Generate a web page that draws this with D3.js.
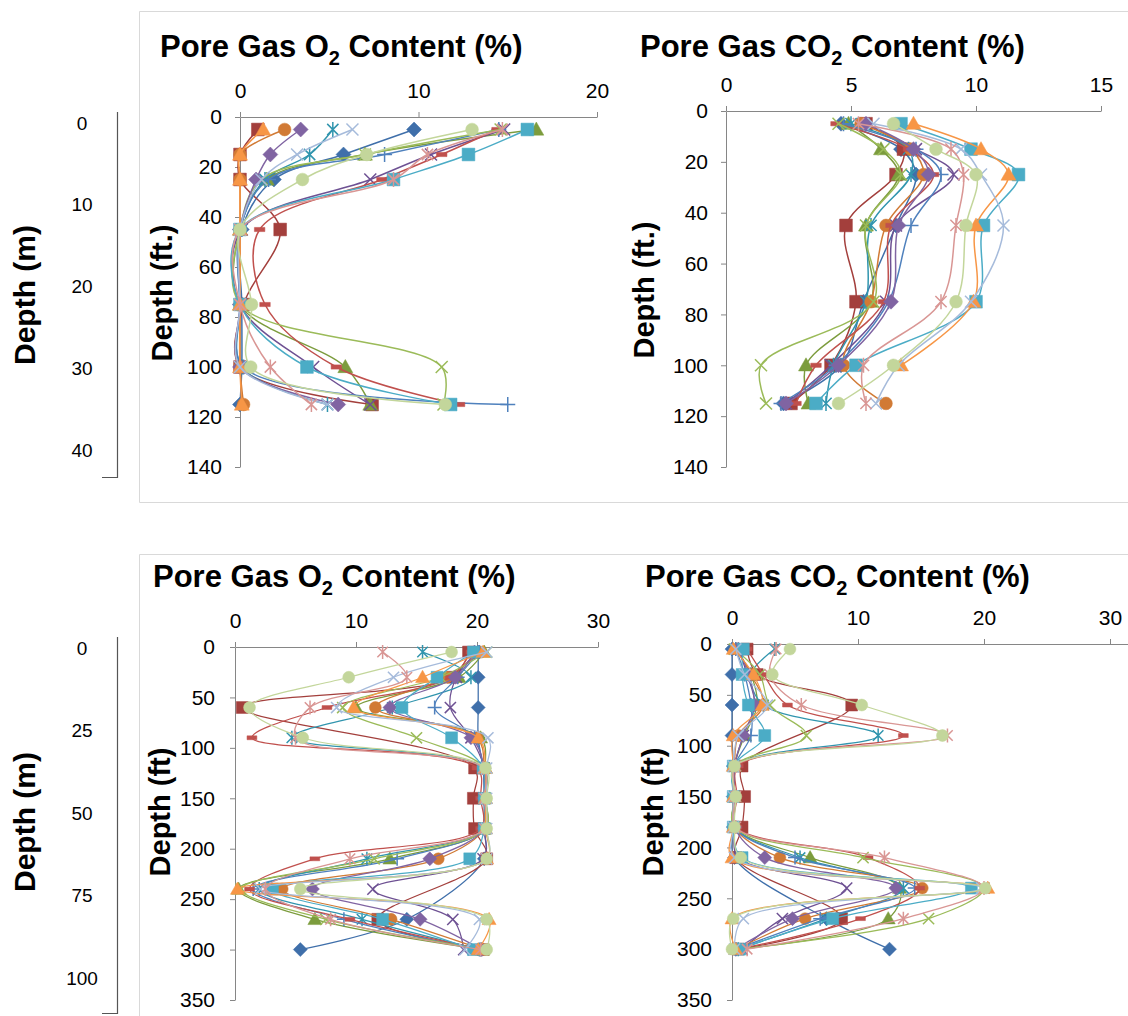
<!DOCTYPE html>
<html>
<head>
<meta charset="utf-8">
<script src="https://cdn.jsdelivr.net/npm/d3@7"></script>
<style>
  body { margin: 0; background: #fff; }
  svg { display: block; font-family: "Liberation Sans", Arial, sans-serif; }
</style>
</head>
<body>
<div id="chart"></div>
<script>
// depths (ft) of the sampling points
const topDepths = [5, 15, 25, 45, 75, 100, 115];
const botDepths = [5, 30, 60, 90, 120, 150, 180, 210, 240, 270, 300];

// tick labels
const topO2Ticks = [0, 10, 20];
const topCO2Ticks = [0, 5, 10, 15];
const botGasTicks = [0, 10, 20, 30];
const topFtTicks = [0, 20, 40, 60, 80, 100, 120, 140];
const botFtTicks = [0, 50, 100, 150, 200, 250, 300, 350];
const topMTicks = [0, 10, 20, 30, 40];
const botMTicks = [0, 25, 50, 75, 100];

// series values, one row per series (top site)
const topO2 = [
  [9.75, 5.8, 1.9, 0.1, 0.1, 0.1, 0],
  [1.0, 0, 0, 2.25, 0.2, 0, 7.4],
  [16.6, 7.0, 1.5, 0, 0, 5.9, 7.3],
  [14.8, 10.7, 7.3, 0.1, 0, 4.1, 7.3],
  [5.2, 3.9, 1.4, 0, 0, 0.1, 4.9],
  [2.5, 0, 0, 0, 0, 0, 0.2],
  [14.5, 8.1, 1.6, 0, 0, 0.2, 15.0],
  [14.4, 11.3, 7.95, 1.1, 1.4, 5.4, 12.3],
  [14.6, 7.0, 1.2, 0, 0, 11.3, 11.4],
  [3.4, 1.7, 0.9, 0, 0, 0, 5.5],
  [16.1, 12.8, 8.6, 0, 0, 3.75, 11.8],
  [1.3, 0, 0, 0, 0, 0, 0.1],
  [6.3, 3.2, 1.2, 0, 0, 0, 4.9],
  [14.7, 10.5, 8.6, 0, 0, 1.7, 4.0],
  [13.0, 7.1, 3.5, 0, 0.65, 0.6, 11.5]
];
const topCO2 = [
  [4.6, 7.0, 7.6, 6.8, 5.5, 4.6, 2.3],
  [5.6, 7.1, 6.8, 4.8, 5.2, 4.2, 2.6],
  [4.9, 6.2, 6.9, 5.6, 5.8, 3.2, 3.3],
  [5.5, 7.6, 9.1, 6.8, 6.4, 4.2, 2.4],
  [5.0, 7.3, 7.4, 5.8, 5.6, 4.3, 4.0],
  [5.4, 7.4, 7.9, 6.4, 5.8, 4.7, 6.4],
  [4.7, 7.6, 8.6, 7.4, 6.5, 4.4, 2.2],
  [4.4, 7.3, 8.3, 6.6, 6.3, 3.6, 2.8],
  [4.5, 6.3, 7.0, 5.6, 5.9, 1.4, 1.6],
  [5.6, 7.5, 8.1, 6.9, 6.6, 4.5, 2.4],
  [7.0, 9.8, 11.7, 10.3, 10.0, 5.2, 3.6],
  [7.5, 10.2, 11.3, 10.0, 9.9, 7.0, null],
  [5.9, 9.4, 10.2, 11.1, 9.8, 6.9, 6.0],
  [5.3, 9.0, 9.5, 9.2, 8.6, 5.5, 5.6],
  [6.7, 8.4, 10.0, 9.6, 9.2, 6.7, 4.5]
];

// series values (bottom site)
const botO2 = [
  [20.1, 20.1, 20.1, 20.1, 20.5, 20.6, 20.6, 20.6, null, 14.2, 5.4],
  [19.3, 18.0, 0.6, null, 19.8, 19.7, 19.8, 20.8, null, 11.8, 20.5],
  [20.6, 18.5, 10.0, 20.3, 20.7, 20.7, 20.7, 12.8, 0.3, 6.6, 20.4],
  [20.0, 18.3, 17.8, 19.5, 20.6, 20.6, 20.6, 20.5, 11.4, 18.0, 18.9],
  [15.5, 19.5, 13.0, 4.7, 20.5, 20.7, 20.6, 10.9, 2.0, 10.5, 20.3],
  [20.3, 17.5, 11.6, 20.0, 20.6, 20.6, 20.6, 16.8, 3.9, 12.9, 20.5],
  [20.2, 18.4, 16.5, 19.8, 20.5, 20.6, 20.6, 13.4, 1.5, 9.0, 20.2],
  [19.5, 17.8, 7.6, 1.4, 20.0, 20.3, 20.3, 6.6, 1.2, 9.5, 20.5],
  [20.8, 17.0, 8.9, 15.0, 20.6, 20.7, 20.7, 11.5, 0.5, 7.5, 20.6],
  [19.8, 18.2, 12.8, 19.5, 20.6, 20.6, 20.6, 16.1, 6.4, 15.3, 20.4],
  [19.7, 16.7, 13.8, 17.9, 20.5, 20.6, 20.6, 19.4, 3.1, 12.2, 19.7],
  [20.5, 15.5, 9.8, 20.1, 20.7, 20.7, 20.7, 20.8, 0.2, 21.0, 20.1],
  [20.8, 13.1, 8.4, 20.9, 20.8, 20.8, 20.8, 20.8, 2.1, 20.2, 19.0],
  [12.2, 14.2, 6.2, 5.0, 20.5, 20.6, 20.6, 9.5, 2.5, 7.9, 20.3],
  [17.9, 9.4, 1.2, 5.6, 20.7, 20.8, 20.8, 20.8, 5.4, 20.8, 20.8]
];
const botCO2 = [
  [0, 0, 0, 0, 0.1, 0.1, 0.1, 0.2, null, 7.5, 12.5],
  [1.2, 2.0, 9.5, null, 0.8, 1.0, 0.8, 0.3, null, 8.7, 0.5],
  [0.3, 1.5, 2.0, 1.0, 0.2, 0.2, 0.2, 6.2, 13.3, 12.4, 0.3],
  [0.5, 1.2, 1.8, 0.9, 0.2, 0.2, 0.2, 0.5, 9.1, 4.0, 0.8],
  [3.4, 1.5, 2.5, 11.6, 0.2, 0.2, 0.2, 5.4, 13.6, 7.5, 0.5],
  [0.4, 1.5, 2.5, 0.5, 0.2, 0.2, 0.2, 3.8, 15.1, 5.8, 0.4],
  [0.3, 1.0, 1.5, 1.5, 0.2, 0.2, 0.2, 5.0, 14.5, 7.0, 0.3],
  [1.2, 2.5, 4.4, 13.6, 0.5, 0.4, 0.4, 10.8, 14.9, 10.2, 0.5],
  [0.2, 2.2, 3.0, 5.9, 0.2, 0.2, 0.2, 10.4, 20.0, 15.6, 0.6],
  [0.5, 1.3, 1.8, 0.9, 0.2, 0.2, 0.2, 2.6, 13.0, 4.8, 0.3],
  [0.9, 0.8, 1.3, 2.6, 0.1, 0.1, 0.1, 0.8, 19.0, 8.0, 0.6],
  [0.1, 1.7, 2.4, 0.1, 0.1, 0.1, 0.1, 0, 20.3, 0, 0.3],
  [0.3, 1.0, 2.8, 0.5, 0.1, 0.1, 0.1, 0.2, 19.8, 0.9, 0.2],
  [3.5, 3.0, 5.5, 17.1, 0.3, 0.3, 0.3, 12.1, 20.0, 13.6, 1.2],
  [4.6, 3.2, 10.3, 16.7, 0.2, 0.3, 0.2, 0.7, 20.1, 0.1, 0]
];

// series styles (Excel-like defaults)
const seriesColors = ['#3F6FAA', '#A33F3C', '#7C9C3D', '#6E5193', '#3195AE', '#D17A35', '#4F81BD', '#C0504D',
  '#9BBB59', '#8064A2', '#4BACC6', '#F79646', '#A6BBDB', '#D99694', '#C3D69B'];
const seriesMarkers = ['diamond', 'square', 'triangle', 'x', 'star', 'circle', 'plus', 'dash',
  'x', 'diamond', 'square', 'triangle', 'x', 'star', 'circle'];

const W = 1128, H = 1016;
const axisColor = '#868686';

const svg = d3.select('#chart').append('svg')
  .attr('width', W).attr('height', H);

// panel frames
svg.append('path')
  .attr('d', 'M1140,11.5H139.5V502.5H1140')
  .attr('fill', 'none').attr('stroke', '#d9d9d9');
svg.append('path')
  .attr('d', 'M1140,554.5H139.5V1030')
  .attr('fill', 'none').attr('stroke', '#d9d9d9');

// marker shapes (size = half extent in px)
const markerTypes = {
  diamond: { draw(c, r) { c.moveTo(0, -r); c.lineTo(r, 0); c.lineTo(0, r); c.lineTo(-r, 0); c.closePath(); } },
  square: { draw(c, r) { const s = r * 0.85; c.rect(-s, -s, 2 * s, 2 * s); } },
  triangle: { draw(c, r) { c.moveTo(0, -r); c.lineTo(r, r * 0.75); c.lineTo(-r, r * 0.75); c.closePath(); } },
  circle: { draw(c, r) { const s = r * 0.85; c.moveTo(s, 0); c.arc(0, 0, s, 0, 2 * Math.PI); } },
  x: { draw(c, r) { const s = r * 0.8; c.moveTo(-s, -s); c.lineTo(s, s); c.moveTo(s, -s); c.lineTo(-s, s); } },
  star: { draw(c, r) { const s = r * 0.75; c.moveTo(-s, -s); c.lineTo(s, s); c.moveTo(s, -s); c.lineTo(-s, s); c.moveTo(0, -r); c.lineTo(0, r); } },
  plus: { draw(c, r) { c.moveTo(-r, 0); c.lineTo(r, 0); c.moveTo(0, -r); c.lineTo(0, r); } },
  dash: { draw(c, r) { c.rect(-r * 0.7, -r * 0.28, r * 1.4, r * 0.56); } }
};
const strokeOnly = new Set(['x', 'star', 'plus']);

function styleAxis(g) {
  g.select('.domain').attr('stroke', axisColor);
  g.selectAll('.tick line').attr('stroke', axisColor);
  g.selectAll('.tick text').attr('fill', '#000').attr('font-size', 21)
    .attr('font-family', '"Liberation Sans", Arial, sans-serif');
}

function drawTitle(x, y, gas) {
  const t = svg.append('text').attr('x', x).attr('y', y)
    .attr('font-weight', 'bold').attr('font-size', 31);
  t.append('tspan').text('Pore Gas ' + gas);
  t.append('tspan').attr('font-size', 20).attr('dy', 8).text('2');
  t.append('tspan').attr('dy', -8).text(' Content (%)');
}

function drawRotLabel(x, y, label, size) {
  svg.append('text')
    .attr('transform', `translate(${x},${y}) rotate(-90)`)
    .attr('text-anchor', 'middle')
    .attr('font-weight', 'bold').attr('font-size', size)
    .text(label);
}

function drawPanel(p) {
  const x = d3.scaleLinear().domain(p.xDomain).range(p.xRange);
  const y = d3.scaleLinear().domain(p.yDomain).range(p.yRange);

  svg.append('g').attr('transform', `translate(0,${p.yRange[0]})`)
    .call(d3.axisTop(x).tickValues(p.xTicks).tickSize(5).tickPadding(14).tickSizeOuter(0))
    .call(styleAxis);
  svg.append('g').attr('transform', `translate(${p.xRange[0]},0)`)
    .call(d3.axisLeft(y).tickValues(p.yTicks).tickSize(5).tickPadding(p.yPad).tickSizeOuter(0))
    .call(styleAxis);

  const line = d3.line()
    .x(d => x(d.v)).y(d => y(d.depth))
    .curve(d3.curveCatmullRom.alpha(0.5));

  const series = p.values.map((row, i) => ({
    i,
    pts: row.map((v, j) => ({ v, depth: p.depths[j] })).filter(d => d.v !== null)
  }));

  const g = svg.append('g');
  series.forEach(s => {
    const col = seriesColors[s.i];
    const m = seriesMarkers[s.i];
    g.append('path')
      .attr('d', line(s.pts))
      .attr('fill', 'none').attr('stroke', col)
      .attr('stroke-width', p.lineWidth);
    const sym = d3.symbol().type(markerTypes[m]).size(p.markerR);
    g.selectAll(null).data(s.pts).join('path')
      .attr('transform', d => `translate(${x(d.v)},${y(d.depth)})`)
      .attr('d', sym)
      .attr('fill', strokeOnly.has(m) ? 'none' : col)
      .attr('stroke', col)
      .attr('stroke-width', strokeOnly.has(m) ? 1.5 : 0.5);
  });
}

function drawMetres(ticks, domain, range, lineTop, lineBot) {
  const m = d3.scaleLinear().domain(domain).range(range);
  svg.append('g').selectAll('text').data(ticks).join('text')
    .attr('x', 82).attr('y', d => m(d)).attr('dy', '0.35em')
    .attr('text-anchor', 'middle').attr('font-size', 19)
    .text(d => d);
  svg.append('path')
    .attr('d', `M117.5,${lineTop}V${lineBot}H102`)
    .attr('fill', 'none').attr('stroke', '#555').attr('stroke-width', 1.2);
}

// top site
drawTitle(160, 57, 'O');
drawTitle(640, 57, 'CO');
drawPanel({
  values: topO2, depths: topDepths,
  xDomain: [0, 20], xRange: [240, 597], xTicks: topO2Ticks,
  yDomain: [0, 140], yRange: [117, 467], yTicks: topFtTicks, yPad: 13,
  lineWidth: 1.5, markerR: 7.5
});
drawPanel({
  values: topCO2, depths: topDepths,
  xDomain: [0, 15], xRange: [726, 1101], xTicks: topCO2Ticks,
  yDomain: [0, 140], yRange: [111, 467], yTicks: topFtTicks, yPad: 13,
  lineWidth: 1.5, markerR: 7.5
});
drawRotLabel(172, 293, 'Depth (ft.)', 29);
drawRotLabel(654, 290, 'Depth (ft.)', 29);
drawRotLabel(35, 295, 'Depth (m)', 30);
drawMetres(topMTicks, [0, 40], [123, 450], 112, 477.5);

// bottom site
drawTitle(153, 587, 'O');
drawTitle(645, 587, 'CO');
drawPanel({
  values: botO2, depths: botDepths,
  xDomain: [0, 30], xRange: [235, 598], xTicks: botGasTicks,
  yDomain: [0, 350], yRange: [647, 1000], yTicks: botFtTicks, yPad: 15,
  lineWidth: 1.25, markerR: 7
});
drawPanel({
  values: botCO2, depths: botDepths,
  xDomain: [0, 40], xRange: [732, 1236], xTicks: botGasTicks,
  yDomain: [0, 350], yRange: [644, 1000], yTicks: botFtTicks, yPad: 15,
  lineWidth: 1.25, markerR: 7
});
drawRotLabel(170, 812, 'Depth (ft)', 29);
drawRotLabel(663, 812, 'Depth (ft)', 29);
drawRotLabel(35, 822, 'Depth (m)', 30);
drawMetres(botMTicks, [0, 100], [648, 978], 637, 1013.5);
</script>
</body>
</html>
